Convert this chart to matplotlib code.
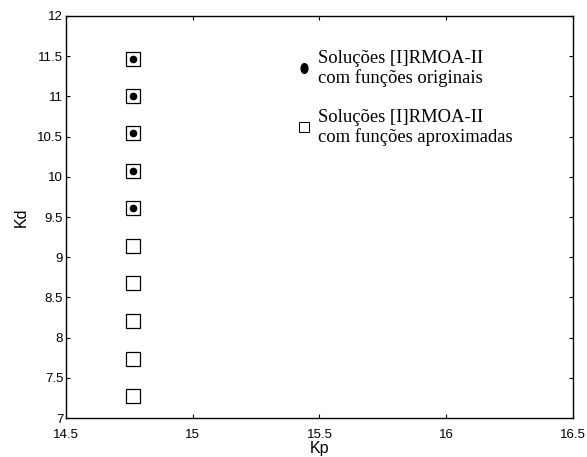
from matplotlib import pyplot as plt
from matplotlib.lines import Line2D
from matplotlib.path import Path
from matplotlib.transforms import Affine2D

# Kp / Kd solutions
kp_aprox = [14.765] * 10
kd_aprox = [7.27, 7.74, 8.21, 8.68, 9.14, 9.61, 10.07, 10.54, 11.00, 11.47]
kp_orig = [14.765] * 5
kd_orig = [9.61, 10.07, 10.54, 11.00, 11.47]

x_ticks = [14.5, 15, 15.5, 16, 16.5]
y_ticks = [7, 7.5, 8, 8.5, 9, 9.5, 10, 10.5, 11, 11.5, 12]

label_orig = 'Soluções [I]RMOA-II\ncom funções originais'
label_aprox = 'Soluções [I]RMOA-II\ncom funções aproximadas'


def main():
    plt.rcParams['font.family'] = ['Liberation Sans', 'DejaVu Sans']
    fig = plt.figure(figsize=(5.87, 4.57), dpi=100)
    ax = fig.add_axes([0.1124, 0.0853, 0.8636, 0.8797])

    ax.plot(kp_aprox, kd_aprox, linestyle='none', marker='s', markersize=10,
            markerfacecolor='white', markeredgecolor='black', markeredgewidth=0.9)
    ax.plot(kp_orig, kd_orig, linestyle='none', marker='o', markersize=4.5,
            color='black')

    ax.set_xlim(14.5, 16.5)
    ax.set_ylim(7, 12)
    ax.set_xticks(x_ticks)
    ax.set_xticklabels(['14.5', '15', '15.5', '16', '16.5'])
    ax.set_yticks(y_ticks)
    ax.set_yticklabels(['7', '7.5', '8', '8.5', '9', '9.5', '10', '10.5',
                        '11', '11.5', '12'])
    ax.tick_params(direction='in', length=3, width=0.8, labelsize=9.5,
                   top=True, right=True, pad=2)
    ax.tick_params(axis='x', pad=8)
    ax.set_xlabel('Kp', fontsize=11.5, labelpad=0)
    ax.set_ylabel('Kd', fontsize=11.5, labelpad=6)
    for s in ax.spines.values():
        s.set_linewidth(1.0)

    ellipse = Path.unit_circle().transformed(Affine2D().scale(0.7, 1.0))
    handles = [
        Line2D([], [], linestyle='none', marker=ellipse, markersize=7,
               color='black'),
        Line2D([], [], linestyle='none', marker='s', markersize=7,
               markerfacecolor='white', markeredgecolor='black',
               markeredgewidth=0.7),
    ]
    leg = ax.legend(handles, [label_orig, label_aprox], loc='upper left',
                    bbox_to_anchor=(0.444, 0.935), frameon=False,
                    prop={'family': 'Liberation Serif', 'size': 13.4},
                    handlelength=0.6, handletextpad=0.45, labelspacing=1.15,
                    borderaxespad=0)
    for t in leg.get_texts():
        t.set_linespacing(1.2)

    fig.savefig('out.png', dpi=100)


if __name__ == '__main__':
    main()
